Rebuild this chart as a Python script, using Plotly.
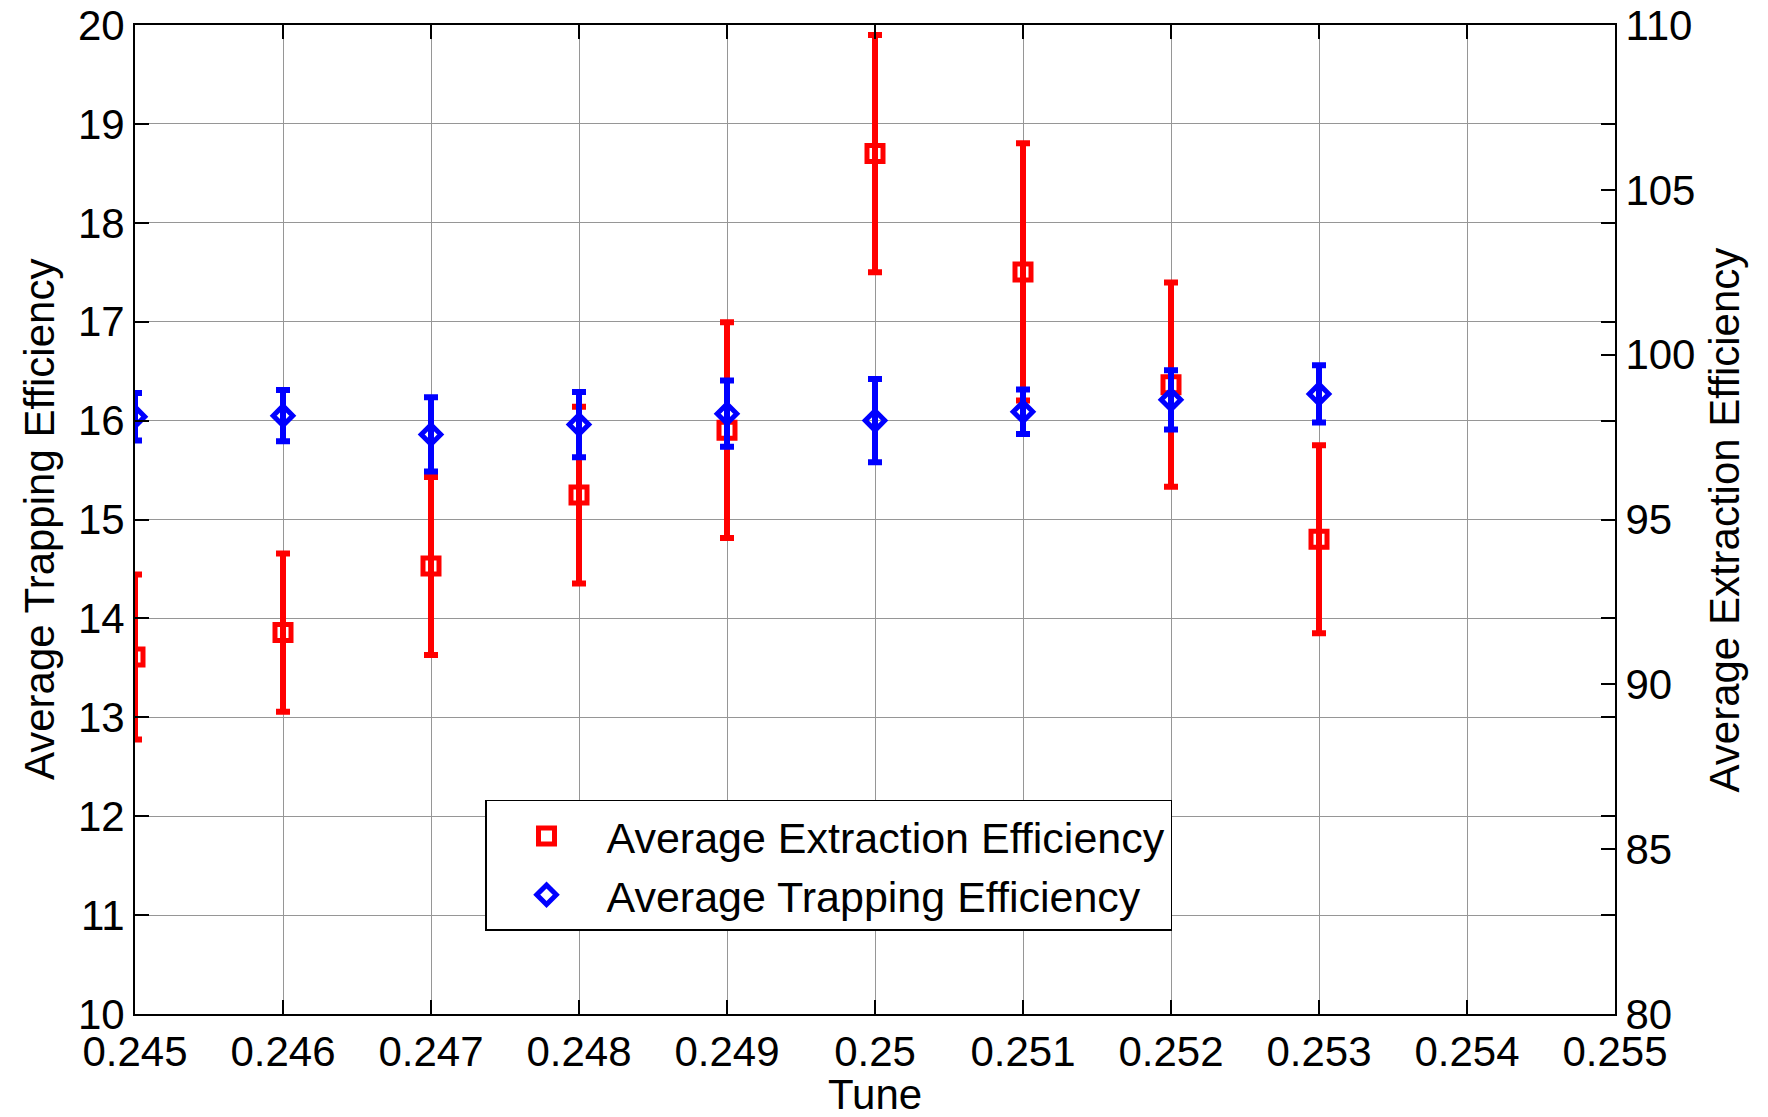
import plotly.graph_objects as go

# ---- data ----
tune = [0.245, 0.246, 0.247, 0.248, 0.249, 0.250, 0.251, 0.252, 0.253]
extraction = [90.83, 91.57, 93.59, 95.74, 97.71, 106.10, 102.51, 99.09, 94.40]
extraction_err = [2.5, 2.4, 2.7, 2.68, 3.27, 3.6, 3.9, 3.1, 2.85]
trapping = [16.04, 16.05, 15.86, 15.96, 16.07, 16.00, 16.09, 16.21, 16.27]
trapping_err = [0.24, 0.26, 0.375, 0.33, 0.335, 0.42, 0.225, 0.30, 0.29]

x_tickvals = [0.245, 0.246, 0.247, 0.248, 0.249, 0.250, 0.251, 0.252, 0.253, 0.254, 0.255]
x_ticktext = ["0.245", "0.246", "0.247", "0.248", "0.249", "0.25", "0.251", "0.252", "0.253", "0.254", "0.255"]
left_ticks = [10, 11, 12, 13, 14, 15, 16, 17, 18, 19, 20]
right_ticks = [80, 85, 90, 95, 100, 105, 110]

FONT = "Liberation Sans, Arial, sans-serif"
FS = 42
GRID = "rgb(150,150,150)"

fig = go.Figure()

fig.add_trace(go.Scatter(
    x=tune, y=extraction, mode="markers", name="Average Extraction Efficiency",
    yaxis="y",
    marker=dict(symbol="square-open", size=16, color="#FF0000",
                line=dict(width=5, color="#FF0000")),
    error_y=dict(type="data", array=extraction_err, visible=True,
                 color="#FF0000", thickness=6, width=7),
))
fig.add_trace(go.Scatter(
    x=tune, y=trapping, mode="markers", name="Average Trapping Efficiency",
    yaxis="y2",
    marker=dict(symbol="diamond-open", size=15, color="#0000FF",
                line=dict(width=5, color="#0000FF")),
    error_y=dict(type="data", array=trapping_err, visible=True,
                 color="#0000FF", thickness=6, width=7),
))

fig.update_layout(
    width=1768, height=1117,
    margin=dict(l=135, r=153, t=25, b=103, autoexpand=False),
    paper_bgcolor="white", plot_bgcolor="white",
    font=dict(family=FONT, size=FS, color="black"),
    showlegend=True,
    xaxis=dict(
        range=[0.245, 0.255], tickvals=x_tickvals, ticktext=x_ticktext,
        showgrid=True, gridcolor=GRID, gridwidth=1, automargin=False,
        showline=True, linecolor="black", linewidth=2, mirror="ticks",
        ticks="inside", ticklen=14, tickcolor="black", tickwidth=1.5,
        zeroline=False, tickfont=dict(size=FS),
    ),
    yaxis=dict(
        range=[80, 110], tickvals=right_ticks, side="right",
        showgrid=False, zeroline=False, automargin=False,
        showline=True, linecolor="black", linewidth=2,
        ticks="inside", ticklen=14, tickcolor="black", tickwidth=1.5,
        tickfont=dict(size=FS),
    ),
    yaxis2=dict(
        range=[10, 20], tickvals=left_ticks, side="left", overlaying="y",
        showgrid=True, gridcolor=GRID, gridwidth=1, zeroline=False,
        automargin=False,
        showline=True, linecolor="black", linewidth=2, mirror="ticks",
        ticks="inside", ticklen=14, tickcolor="black", tickwidth=1.5,
        tickfont=dict(size=FS),
    ),
    legend=dict(
        x=0.2365, y=0.2164, xanchor="left", yanchor="top",
        bgcolor="white", bordercolor="black", borderwidth=1.5,
        font=dict(size=43), itemwidth=110,
    ),
    annotations=[
        dict(text="Average Trapping Efficiency", xref="paper", yref="paper",
             x=-0.0645, y=0.5, xanchor="center", yanchor="middle",
             textangle=-90, showarrow=False, font=dict(size=FS)),
        dict(text="Average Extraction Efficiency", xref="paper", yref="paper",
             x=1.0743, y=0.5, xanchor="center", yanchor="middle",
             textangle=-90, showarrow=False, font=dict(size=FS)),
        dict(text="Tune", xref="paper", yref="paper",
             x=0.5, y=-0.0809, xanchor="center", yanchor="middle",
             showarrow=False, font=dict(size=FS)),
    ],
)

fig.write_html("out.html")
